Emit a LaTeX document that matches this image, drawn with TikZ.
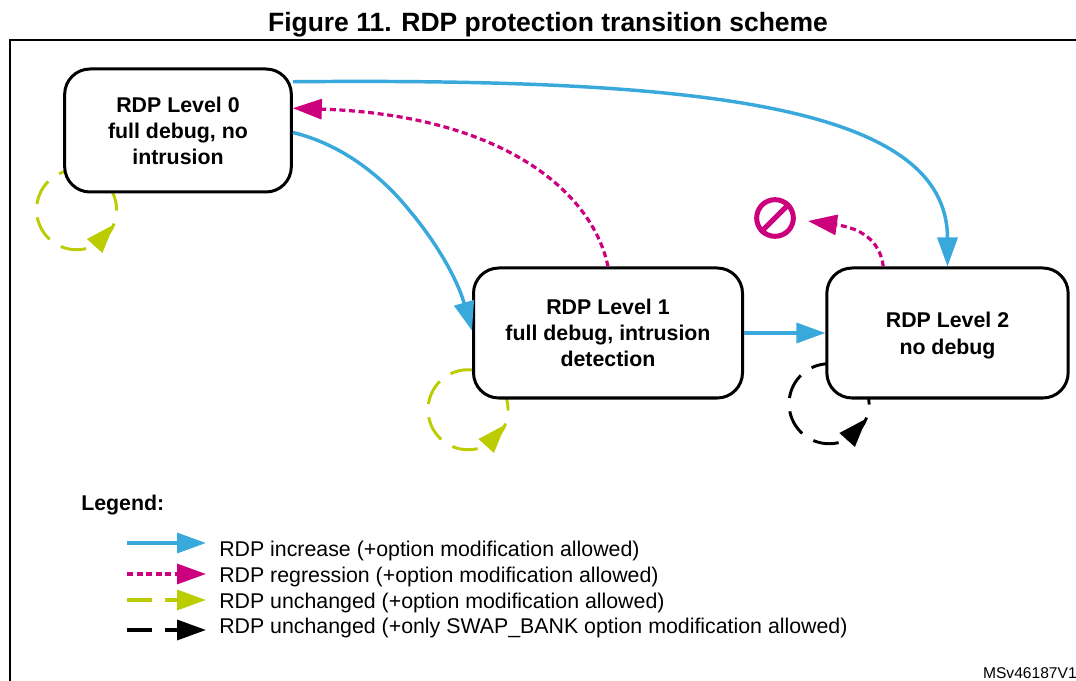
\documentclass[tikz,border=0pt]{standalone}
\usepackage{fontspec}
\setmainfont{Liberation Sans}
\usetikzlibrary{positioning}
\usetikzlibrary{arrows.meta}
\definecolor{rdpblue}{RGB}{57,169,220}
\definecolor{rdpmag}{RGB}{204,0,125}
\definecolor{rdplime}{RGB}{187,204,0}

\begin{document}
\begin{tikzpicture}[x=0.75pt, y=-0.75pt,
        level/.style={draw, fill=white, line width=2.25pt, rounded corners=19pt, align=center, font=\fontsize{16}{19.5}\selectfont\bfseries},
        loopring/.style={circle, inner sep=0pt, minimum size=60pt},
        ringdash/.style={line width=2.2pt, dash pattern=on 19.3pt off 10pt},
        head/.style={-{Triangle[length=21.75pt, width=15pt]}},
        up/.style={rdpblue, line width=2.6pt, head},
        back/.style={rdpmag, line width=2.4pt, dash pattern=on 4.5pt off 2.7pt, head},
        tag/.style={anchor=west, inner sep=0pt, font=\fontsize{16}{19}\selectfont}]
            \useasboundingbox (0, 0) rectangle (1076, 681);

            \node[font=\fontsize{19.85}{22}\selectfont\bfseries] (title) at (548, 24.5) {Figure 11. RDP protection transition scheme};
            \coordinate (corner) at (10, 40);
            \coordinate (cornerb) at (10, 681);
            \coordinate (cornerr) at (1076, 40);
            \draw[line width=1.8pt] (cornerb) -- (corner) -- (cornerr);

            \node[loopring] (loopa) at (76.5, 210) {};
            \node[loopring] (loopb) at (468, 410) {};
            \node[loopring] (loopc) at (829, 404) {};
            \draw[ringdash, rdplime] (loopa.79) arc[start angle=79, end angle=395, radius=30pt];
            \draw[ringdash, rdplime] (loopb.79) arc[start angle=79, end angle=395, radius=30pt];
            \draw[ringdash, black] (loopc.79) arc[start angle=79, end angle=395, radius=30pt];
            \draw[head, rdplime, line width=2.2pt] (loopa.-63) -- (loopa.-21);
            \draw[head, rdplime, line width=2.2pt] (loopb.-63) -- (loopb.-21);
            \draw[head, black, line width=2.2pt] (loopc.-63) -- (loopc.-21);

            \node[level, minimum width=170pt, minimum height=92.25pt] (a) at (178, 130.5) {RDP Level 0\\full debug, no\\intrusion};
            \node[level, minimum width=201.75pt, minimum height=97.5pt] (b) at (608, 333) {RDP Level 1\\full debug, intrusion\\detection};
            \node[level, minimum width=181pt, minimum height=97.5pt] (c) at (947.5, 333) {\rule{0pt}{15pt}RDP Level 2\\[1pt]no debug};

            \draw[up] (a.23) .. controls (700, 78) and (947.5, 105) .. (c.north);
            \draw[up] (a.-1) .. controls (345, 145) and (385, 180) .. (409, 210) .. controls (432, 237) and (456, 275) .. (b.179);
            \draw[up] (b) -- (c);
            \draw[back] (b.north) .. controls (592, 190) and (500, 115) .. (a.11);

            \node[circle, draw=rdpmag, line width=3.75pt, inner sep=0pt, minimum size=27.5pt] (stop) at (775, 218) {};
            \draw[rdpmag, line width=3.75pt] (stop.45) -- (stop.225);
            \coordinate (stoptip) at (808, 221);
            \draw[back] (c.134) .. controls (880, 240) and (860, 228) .. (stoptip);

            \node[anchor=west, inner sep=0pt, font=\fontsize{16}{19}\selectfont\bfseries] (legend) at (81, 505) {Legend:};
            \node[tag] (inc) at (219, 551) {RDP increase (+option modification allowed)};
            \node[tag] (reg) at (219, 577) {RDP regression (+option modification allowed)};
            \node[tag] (same) at (219, 603) {RDP unchanged (+option modification allowed)};
            \node[tag] (swap) at (219, 628) {RDP unchanged (+only SWAP\_BANK option modification allowed)};
            \coordinate (inca) at (127, 543);
            \coordinate (incb) at (206, 543);
            \coordinate (rega) at (127, 574);
            \coordinate (regb) at (206, 574);
            \coordinate (samea) at (127, 600);
            \coordinate (sameb) at (206, 600);
            \coordinate (swapa) at (127, 630);
            \coordinate (swapb) at (206, 630);
            \draw[up] (inca) -- (incb);
            \draw[back] (rega) -- (regb);
            \draw[head, rdplime, line width=2.6pt, dash pattern=on 18.75pt off 9.75pt] (samea) -- (sameb);
            \draw[head, black, line width=2.6pt, dash pattern=on 18.75pt off 9.75pt] (swapa) -- (swapb);

            \node[anchor=east, inner sep=0pt, font=\fontsize{11.7}{14}\selectfont] (ref) at (1077, 673) {MSv46187V1};
        \end{tikzpicture}
\end{document}
